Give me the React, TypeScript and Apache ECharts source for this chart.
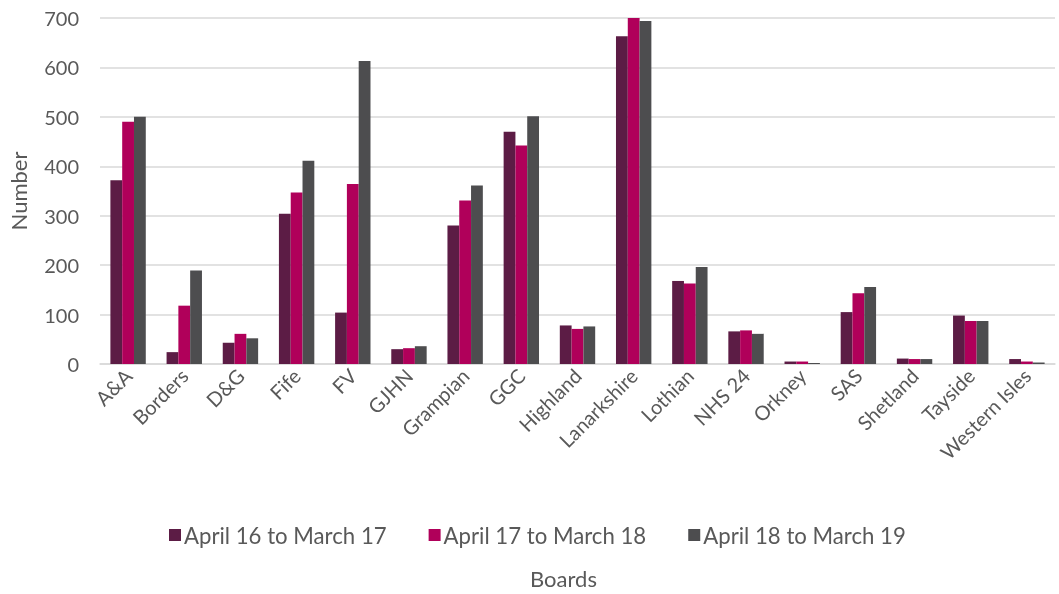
import React, { useEffect, useRef } from "react";
import * as echarts from "echarts";

const categories = ["A&A", "Borders", "D&G", "Fife", "FV", "GJHN", "Grampian", "GGC", "Highland", "Lanarkshire", "Lothian", "NHS 24", "Orkney", "SAS", "Shetland", "Tayside", "Western Isles"];
const seriesNames = ["April 16 to March 17", "April 17 to March 18", "April 18 to March 19"];
const y1617 = [372, 24, 43, 304, 104, 30, 280, 470, 78, 663, 168, 66, 5, 105, 11, 98, 10];
const y1718 = [490, 118, 61, 347, 364, 32, 331, 442, 71, 702, 163, 68, 5, 143, 10, 87, 5];
const y1819 = [500, 189, 52, 411, 613, 36, 361, 501, 76, 694, 196, 61, 2, 156, 10, 87, 3];
const colors = ["#5C1C45", "#B0005A", "#4D4D4F"];
const yTicks = { min: 0, max: 700, interval: 100 };

export default function App() {
  const ref = useRef<HTMLDivElement>(null);
  useEffect(() => {
    if (!ref.current) return;
    const chart = echarts.init(ref.current, null, { renderer: "svg" });
    const font = "Lato";
    const data = [y1617, y1718, y1819];
    chart.setOption({
      animation: false,
      textStyle: { fontFamily: font },
      grid: { left: 100, right: 4, top: 18, bottom: 230, outerBoundsMode: "none", containLabel: false },
      legend: {
        data: seriesNames,
        top: 524,
        left: 169,
        padding: 0,
        itemWidth: 12,
        itemHeight: 12,
        itemGap: 42,
        icon: "rect",
        textStyle: { fontSize: 22.2, color: "#595959", fontFamily: font, padding: [0, 0, 0, -2] },
      },
      xAxis: {
        type: "category",
        data: categories,
        name: "Boards",
        nameLocation: "middle",
        nameGap: 203,
        nameTextStyle: { fontSize: 22, color: "#595959", padding: [0, 28, 0, 0] },
        axisLine: { lineStyle: { color: "#D9D9D9", width: 1.5 } },
        axisTick: { show: false },
        axisLabel: { rotate: 45, fontSize: 20, color: "#595959", margin: 8, interval: 0 },
      },
      yAxis: {
        type: "value",
        min: yTicks.min,
        max: yTicks.max,
        interval: yTicks.interval,
        name: "Number",
        nameLocation: "middle",
        nameGap: 71,
        nameTextStyle: { fontSize: 22, color: "#595959" },
        axisLine: { show: false },
        axisTick: { show: false },
        axisLabel: { fontSize: 20, color: "#595959", margin: 21 },
        splitLine: { lineStyle: { color: "#D9D9D9", width: 1.5 } },
      },
      series: seriesNames.map((n, i) => ({
        name: n,
        type: "bar",
        data: data[i],
        barGap: "0%",
        barCategoryGap: "37%",
        itemStyle: { color: colors[i] },
      })),
    });
    return () => chart.dispose();
  }, []);
  return <div ref={ref} style={{ position: "fixed", left: 0, top: 0, width: 1059, height: 594 }} />;
}
